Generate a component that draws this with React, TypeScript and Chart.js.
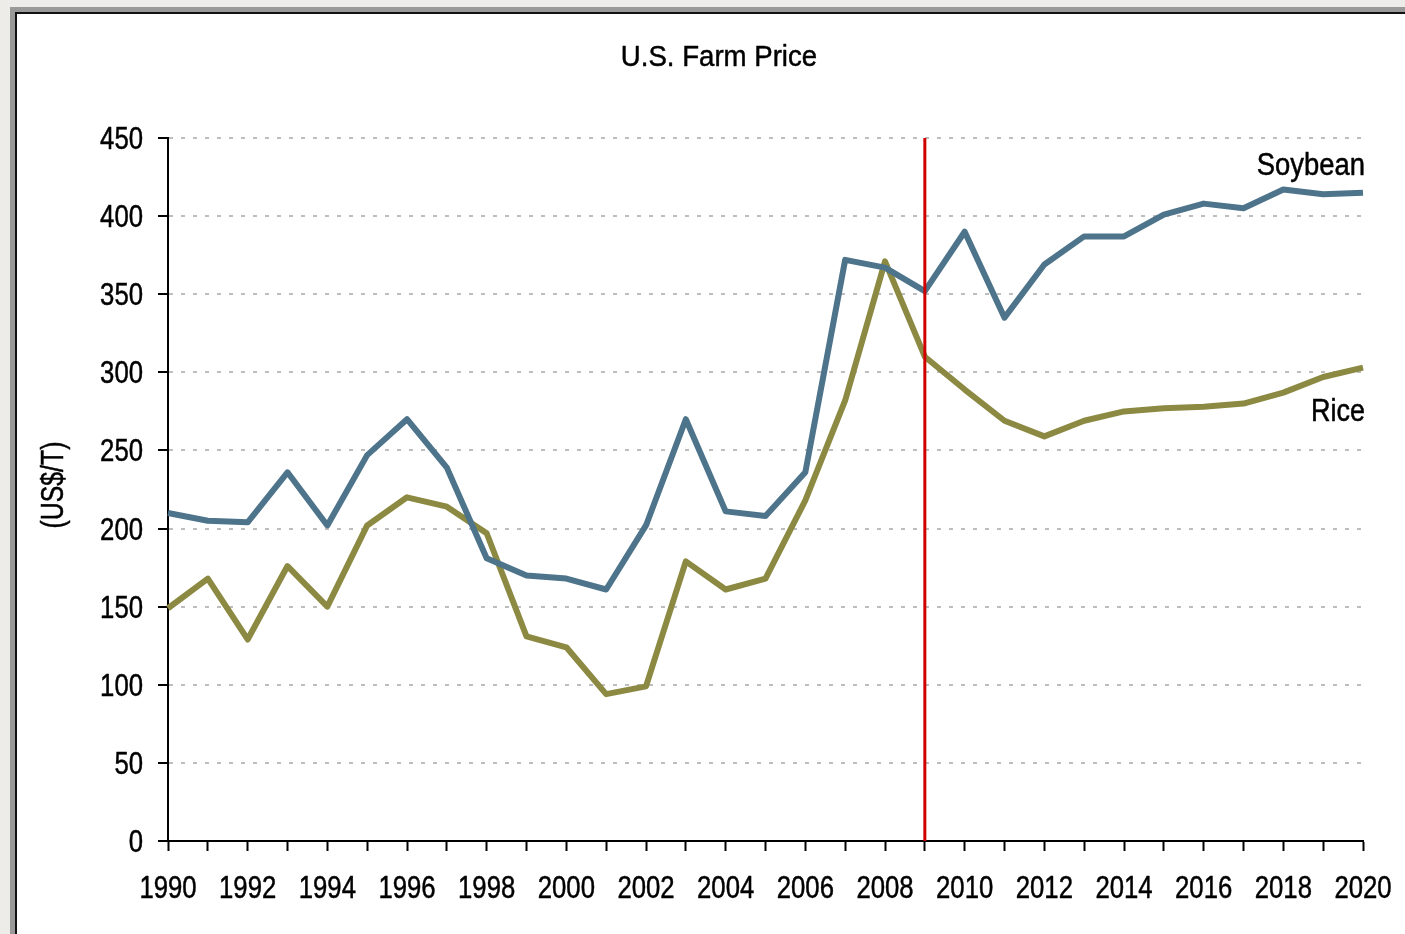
import React, { useEffect, useRef } from "react";
import { Chart, registerables } from "chart.js";

Chart.register(...registerables);

const years: string[] = [
  "1990", "1991", "1992", "1993", "1994", "1995", "1996", "1997", "1998", "1999",
  "2000", "2001", "2002", "2003", "2004", "2005", "2006", "2007", "2008", "2009",
  "2010", "2011", "2012", "2013", "2014", "2015", "2016", "2017", "2018", "2019", "2020",
];

const soybean: number[] = [
  210, 205, 204, 236, 202, 247, 270, 239, 181, 170,
  168, 161, 202, 270, 211, 208, 236, 372, 367, 352,
  390, 335, 369, 387, 387, 401, 408, 405, 417, 414, 415,
];

const rice: number[] = [
  149, 168, 129, 176, 150, 202, 220, 214, 197, 131,
  124, 94, 99, 179, 161, 168, 218, 282, 371, 310,
  289, 269, 259, 269, 275, 277, 278, 280, 287, 297, 303,
];

const yTicks: number[] = [0, 50, 100, 150, 200, 250, 300, 350, 400, 450];
const markerYear = "2009";
const chartTitle = "U.S. Farm Price";
const yTitle = "(US$/T)";
const seriesNames = { soybean: "Soybean", rice: "Rice" };

const FONT = "'Liberation Sans', Arial, sans-serif";

function narrowText(
  ctx: CanvasRenderingContext2D,
  text: string,
  x: number,
  y: number,
  size: number,
  sx: number,
  align: CanvasTextAlign,
  rotate = 0
) {
  ctx.save();
  ctx.translate(x, y);
  if (rotate) ctx.rotate(rotate);
  ctx.scale(sx, 1);
  ctx.font = `${size}px ${FONT}`;
  ctx.textAlign = align;
  ctx.textBaseline = "alphabetic";
  ctx.fillStyle = "#000";
  ctx.strokeStyle = "#000";
  ctx.lineWidth = 0.5;
  ctx.lineJoin = "round";
  ctx.fillText(text, 0, 0);
  ctx.strokeText(text, 0, 0);
  ctx.restore();
}

const overlayPlugin = {
  id: "overlay",
  afterDatasetsDraw(chart: any) {
    const { ctx, chartArea, scales } = chart;
    const x = scales.x;
    // red marker line
    const mx = x.getPixelForValue(years.indexOf(markerYear));
    ctx.save();
    ctx.strokeStyle = "#d00000";
    ctx.lineWidth = 3;
    ctx.beginPath();
    ctx.moveTo(mx, chartArea.top);
    ctx.lineTo(mx, chartArea.bottom);
    ctx.stroke();
    ctx.restore();
  },
  afterDraw(chart: any) {
    const { ctx, chartArea, scales } = chart;
    const x = scales.x;
    const y = scales.y;

    // x tick labels (every second year)
    years.forEach((yr, i) => {
      if (i % 2 !== 0) return;
      narrowText(ctx, yr, x.getPixelForValue(i), chartArea.bottom + 57, 31, 0.83, "center");
    });
    // y tick labels
    yTicks.forEach((v) => {
      narrowText(ctx, String(v), chartArea.left - 25, y.getPixelForValue(v) + 11, 31, 0.83, "right");
    });

    // title
    narrowText(ctx, chartTitle, 719, 66, 30, 0.92, "center");
    // y title
    narrowText(ctx, yTitle, 63, 485, 31, 0.8, "center", -Math.PI / 2);

    // series labels
    const last = years.length - 1;
    const lx = x.getPixelForValue(last) + 2;
    narrowText(ctx, seriesNames.soybean, lx, y.getPixelForValue(soybean[last]) - 18, 31, 0.885, "right");
    narrowText(ctx, seriesNames.rice, lx, y.getPixelForValue(rice[last]) + 53, 31, 0.87, "right");
  },
};

export default function App() {
  const canvasRef = useRef<HTMLCanvasElement | null>(null);

  useEffect(() => {
    if (!canvasRef.current) return;
    const chart = new Chart(canvasRef.current, {
      type: "line",
      data: {
        labels: years,
        datasets: [
          {
            label: seriesNames.soybean,
            data: soybean,
            borderColor: "#4e748b",
            borderWidth: 6,
            pointRadius: 0,
            tension: 0,
            borderJoinStyle: "round",
            fill: false,
          },
          {
            label: seriesNames.rice,
            data: rice,
            borderColor: "#8c8a42",
            borderWidth: 6,
            pointRadius: 0,
            tension: 0,
            borderJoinStyle: "round",
            fill: false,
          },
        ],
      },
      options: {
        responsive: false,
        animation: false,
        devicePixelRatio: 1,
        layout: { padding: { left: 0, top: 138, right: 42, bottom: 0 } },
        plugins: {
          legend: { display: false },
          tooltip: { enabled: false },
          title: { display: false },
        },
        scales: {
          x: {
            type: "category",
            offset: false,
            grid: {
              drawOnChartArea: false,
              drawTicks: true,
              tickLength: 10,
              tickColor: "#000",
              tickWidth: 2,
            },
            border: { display: true, color: "#000", width: 2 },
            ticks: {
              display: false,
              autoSkip: false,
              maxRotation: 0,
              minRotation: 0,
            },
            afterFit: (scale: any) => {
              scale.height = 93;
            },
          },
          y: {
            min: 0,
            max: 450,
            afterBuildTicks: (scale: any) => {
              scale.ticks = yTicks.map((v) => ({ value: v }));
            },
            grid: {
              drawOnChartArea: true,
              drawTicks: true,
              tickLength: 10,
              tickColor: "#000",
              tickWidth: 2,
              color: "#bdbdbd",
              lineWidth: 2,
            },
            border: { display: true, color: "#000", width: 2, dash: [4, 8] },
            ticks: { display: false },
            afterFit: (scale: any) => {
              scale.width = 168;
            },
          },
        },
      },
      plugins: [overlayPlugin],
    });
    return () => chart.destroy();
  }, []);

  return (
    <div
      style={{
        position: "fixed",
        left: 0,
        top: 0,
        width: 1405,
        height: 934,
        overflow: "hidden",
        background: "#eeece8",
      }}
    >
      <div
        style={{
          position: "absolute",
          left: 10,
          top: 7,
          width: 1500,
          height: 1000,
          borderLeft: "5px solid #999",
          borderTop: "5px solid #999",
        }}
      >
        <div
          style={{
            width: "100%",
            height: "100%",
            borderLeft: "2px solid #111",
            borderTop: "2px solid #111",
            background: "#fff",
          }}
        />
      </div>
      <canvas
        ref={canvasRef}
        width={1405}
        height={934}
        style={{ position: "absolute", left: 0, top: 0, width: 1405, height: 934 }}
      />
    </div>
  );
}
